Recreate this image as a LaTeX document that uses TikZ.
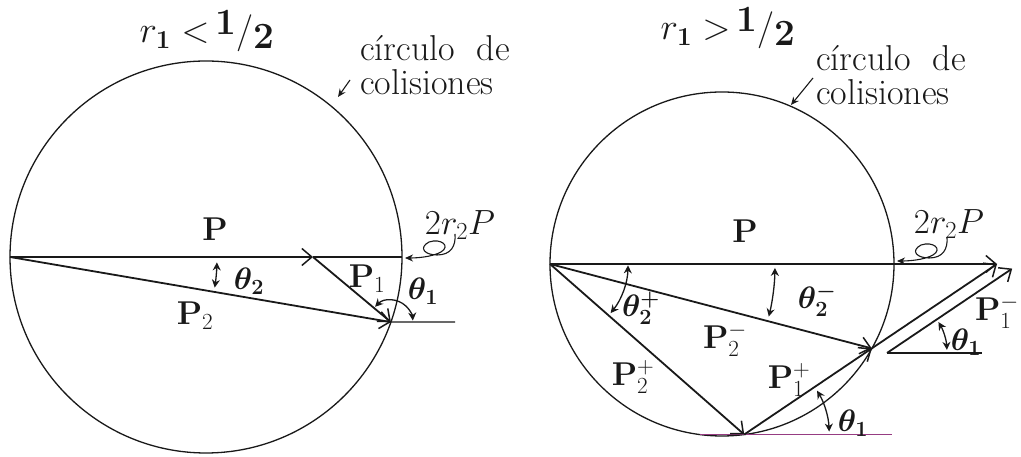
\RequirePackage{fix-cm}
\documentclass[tikz,border=0pt]{standalone}
\usepackage{bm}
\usetikzlibrary{arrows.meta}
\definecolor{ink}{RGB}{25,25,25}
\definecolor{tanline}{RGB}{150,60,130}
\tikzset{
  vec/.style={ink, line width=1.8pt, -{Straight Barb[length=10pt,width=17pt,line width=1.5pt]}},
  plain/.style={ink, line width=1.3pt},
  circ/.style={ink, line width=1.3pt},
  dblarc/.style={ink, line width=1.3pt, {Stealth[length=8pt,width=8pt]}-{Stealth[length=8pt,width=8pt]}},
  ptr/.style={ink, line width=1.1pt, -{Stealth[length=8pt,width=7pt]}},
  vlbl/.style={ink, inner sep=0pt, font=\fontsize{33}{36}\selectfont},
  tlbl/.style={ink, inner sep=0pt, font=\fontsize{31}{34}\selectfont},
  words/.style={ink, inner sep=0pt, align=left, font=\fontsize{36}{34}\selectfont},
  ttl/.style={ink, inner sep=0pt, font=\fontsize{37}{40}\selectfont}
}
\newcommand{\curlarrow}[1]{%
  \draw[ptr] ([shift={(50,24)}]#1) .. controls ([shift={(51,12)}]#1) and ([shift={(46,3)}]#1) .. ([shift={(32,3)}]#1)
    .. controls ([shift={(20,3)}]#1) and ([shift={(13,10)}]#1) .. ([shift={(24,16)}]#1)
    .. controls ([shift={(36,20)}]#1) and ([shift={(46,12)}]#1) .. ([shift={(36,6)}]#1)
    .. controls ([shift={(27,1)}]#1) and ([shift={(12,0)}]#1) .. (#1);}
\newcommand{\half}{\raisebox{0.5ex}{\bfseries 1}/\raisebox{-0.35ex}{\bfseries 2}}
\begin{document}
\begin{tikzpicture}[x=1pt,y=1pt]
\useasboundingbox (0,0) rectangle (1021,457);
\fill[white] (0,0) rectangle (1021,457);

% ---------------- left diagram ----------------
\coordinate (L0) at (206,200);
\coordinate (A) at (10,200);
\coordinate (Rr) at (402,200);
\coordinate (B) at (313,200);
\coordinate (C) at (390.9,134.9);
\coordinate (Ce) at (455,135);
\draw[circ] (L0) circle[radius=196];
\draw[plain] (B) -- (Rr);
\draw[plain] (C) -- (Ce);
\draw[vec] (A) -- (B);
\draw[vec] (B) -- (C);
\draw[vec] (A) -- (C);
\draw[dblarc] ([shift={(-1.5:207)}]A) arc[start angle=-1.5, end angle=-8.5, radius=207];
\draw[dblarc] ([shift={(136:22)}]C) arc[start angle=136, end angle=4, radius=22];

\node[vlbl] (lP) at (215,228) {$\mathbf{P}$};
\node[vlbl] (lP2) at (195,141) {$\mathbf{P}_{2}$};
\node[vlbl] (lP1) at (367,178) {$\mathbf{P}_{1}$};
\node[tlbl] (lt2) at (249,176) {$\bm{\theta}_{\bm 2}$};
\node[tlbl] (lt1) at (423,166) {$\bm{\theta}_{\bm 1}$};
\node[ttl] (ltitle) at (207,426) {$r_{\mathbf 1}<$\,\half};
\node[words, anchor=west] (lwords) at (360,392) {círculo\ \ de\\colisiones};
\coordinate (lw1) at (350,377);
\coordinate (lw2) at (338,360);
\draw[ptr] (lw1) -- (lw2);
\node[ttl, font=\fontsize{35}{38}\selectfont] (l2r) at (460,232) {$2r_2P$};
\coordinate (lq) at (405,199);
\curlarrow{lq}

% ---------------- right diagram ----------------
\coordinate (R0) at (722,193);
\coordinate (A2) at (550,193);
\coordinate (E) at (997,193);
\coordinate (D) at (871.8,108.6);
\coordinate (F) at (744.2,22.5);
\coordinate (T1) at (700,22.5);
\coordinate (T2) at (892,22.5);
\coordinate (G) at (887,104);
\coordinate (Ge) at (982,104);
\coordinate (H) at (1012.2,188.4);
\draw[circ] (R0) circle[radius=172];
\draw[tanline, line width=1.3pt] (T1) -- (T2);
\draw[plain] (G) -- (Ge);
\draw[vec] (A2) -- (E);
\draw[vec] (A2) -- (D);
\draw[vec] (A2) -- (F);
\draw[vec] (F) -- (D);
\draw[vec] (D) -- (E);
\draw[vec] (G) -- (H);
\draw[dblarc] ([shift={(-1:78)}]A2) arc[start angle=-1, end angle=-39, radius=78];
\draw[dblarc] ([shift={(-1:225)}]A2) arc[start angle=-1, end angle=-13.5, radius=225];
\draw[dblarc] ([shift={(31:60)}]G) arc[start angle=31, end angle=3, radius=60];
\draw[dblarc] ([shift={(31:85)}]F) arc[start angle=31, end angle=2, radius=85];

\node[vlbl] (rP) at (745,226) {$\mathbf{P}$};
\node[vlbl] (rP2m) at (725,117) {$\mathbf{P}_{2}^{-}$};
\node[vlbl] (rP2p) at (633,80) {$\mathbf{P}_{2}^{+}$};
\node[vlbl] (rP1p) at (789,77) {$\mathbf{P}_{1}^{+}$};
\node[vlbl] (rP1m) at (997,145) {$\mathbf{P}_{1}^{-}$};
\node[tlbl] (rt2p) at (641,149) {$\bm{\theta}_{\bm 2}^{\bm +}$};
\node[tlbl] (rt2m) at (817,157) {$\bm{\theta}_{\bm 2}^{\bm -}$};
\node[tlbl] (rt1a) at (966,115) {$\bm{\theta}_{\bm 1}$};
\node[tlbl] (rt1b) at (853,34) {$\bm{\theta}_{\bm 1}$};
\node[ttl] (rtitle) at (728,429) {$r_{\mathbf 1}>$\,\half};
\node[words, anchor=west] (rwords) at (816,382) {círculo\ \ de\\colisiones};
\coordinate (rw1) at (813,379);
\coordinate (rw2) at (791,352);
\draw[ptr] (rw1) -- (rw2);
\node[ttl, font=\fontsize{35}{38}\selectfont] (r2r) at (949,233) {$2r_2P$};
\coordinate (rq) at (897,196);
\curlarrow{rq}
\end{tikzpicture}
\end{document}
